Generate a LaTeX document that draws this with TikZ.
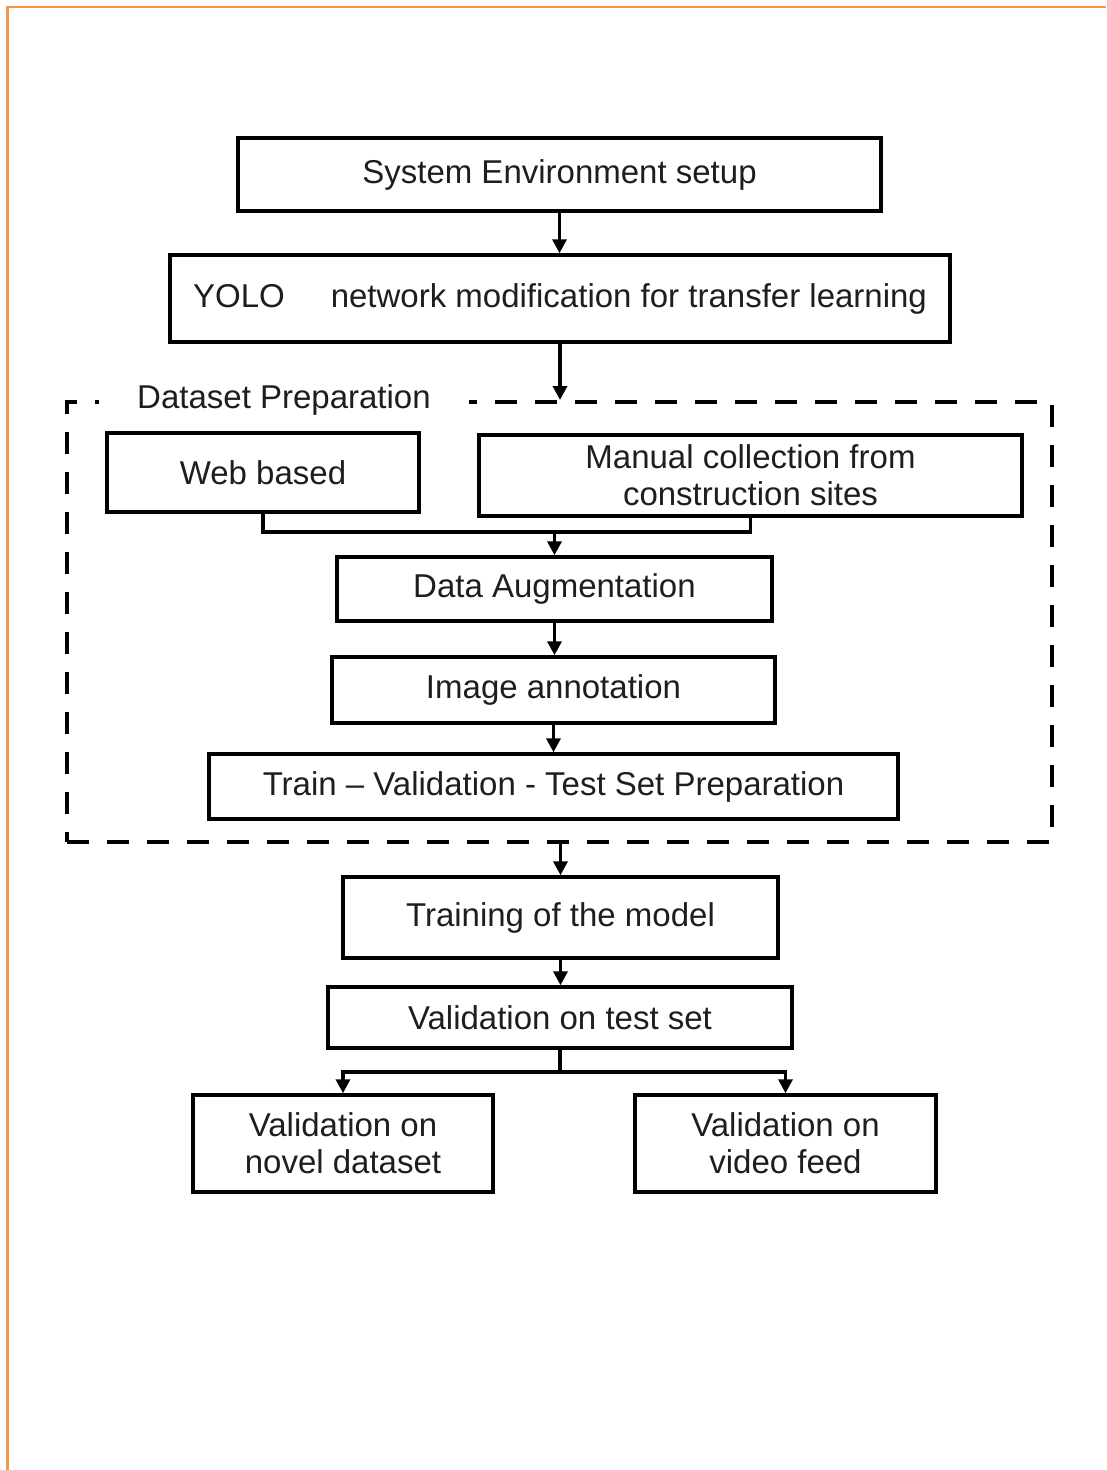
\documentclass[tikz,border=0pt]{standalone}
\usepackage{fontspec}
\setmainfont{Liberation Sans}
\usetikzlibrary{arrows.meta}
\definecolor{orangeline}{HTML}{F79646}
\definecolor{ink}{HTML}{1E1E1E}
\begin{document}
\begin{tikzpicture}[x=1pt,y=-1pt,
  box/.style={draw=black, line width=3.5pt, rectangle, inner sep=0pt, align=center, text=ink, font=\fontsize{33}{37}\selectfont},
  arr/.style={line width=3.5pt, -{Triangle[length=14pt,width=14pt]}},
  ln/.style={line width=3.5pt},
  dashbox/.style={draw=black, line width=4pt, dash pattern=on 22pt off 18pt, rectangle, inner sep=0pt},
  lbl/.style={fill=white, inner sep=0pt, text=ink, font=\fontsize{33}{37}\selectfont}]
\useasboundingbox (0,0) rectangle (1106,1470);
\fill[white] (0,0) rectangle (1106,1470);
\draw[orangeline, line width=2.5pt] (7.5,1470) -- (7.5,7) -- (1106,7);

% dashed group
\node[dashbox, minimum width=985pt, minimum height=440pt] (dset) at (559.5,622) {};
\node[lbl, minimum width=370pt, minimum height=30pt] (dlabel) at (284,400) {Dataset Preparation};

\node[box, minimum width=643pt, minimum height=73pt] (sys) at (559.5,174.5) {System Environment setup};
\node[box, minimum width=780pt, minimum height=87pt] (yolo) at (560,298.5) {YOLO\hspace{46pt}network modification for transfer learning};
\node[box, minimum width=312pt, minimum height=79pt] (web) at (263,472.5) {Web based};
\node[box, minimum width=543pt, minimum height=81pt] (manual) at (750.5,475.5) {Manual collection from\\construction sites};
\node[box, minimum width=435pt, minimum height=64pt] (aug) at (554.5,589) {Data Augmentation};
\node[box, minimum width=443pt, minimum height=66pt] (img) at (553.5,690) {Image annotation};
\node[box, minimum width=689pt, minimum height=65pt] (train) at (553.5,786.5) {Train – Validation - Test Set Preparation};
\node[box, minimum width=435pt, minimum height=81pt] (training) at (560.5,917.5) {Training of the model};
\node[box, minimum width=464pt, minimum height=61pt] (valtest) at (560,1017.5) {Validation on test set};
\node[box, minimum width=300pt, minimum height=97pt] (novel) at (343,1143.5) {Validation on\\novel dataset};
\node[box, minimum width=301pt, minimum height=97pt] (video) at (785.5,1143.5) {Validation on\\video feed};

% connectors
\draw[arr] (sys.south) -- (sys.south |- yolo.north);
\draw[arr] (yolo.south) -- (yolo.south |- dset.north);
\coordinate (merge) at (554.5,532);
\draw[ln] (web.south) |- (merge) -| (manual.south);
\draw[arr] (merge) -- (aug.north);
\draw[arr] (aug.south) -- (aug.south |- img.north);
\draw[arr] (img.south) -- (img.south |- train.north);
\draw[arr] (training.north |- dset.south) -- (training.north);
\draw[arr] (training.south) -- (training.south |- valtest.north);
\coordinate (split) at (560,1072);
\draw[ln] (valtest.south) -- (split);
\draw[arr] (split) -| (novel.north);
\draw[arr] (split) -| (video.north);
\end{tikzpicture}
\end{document}
